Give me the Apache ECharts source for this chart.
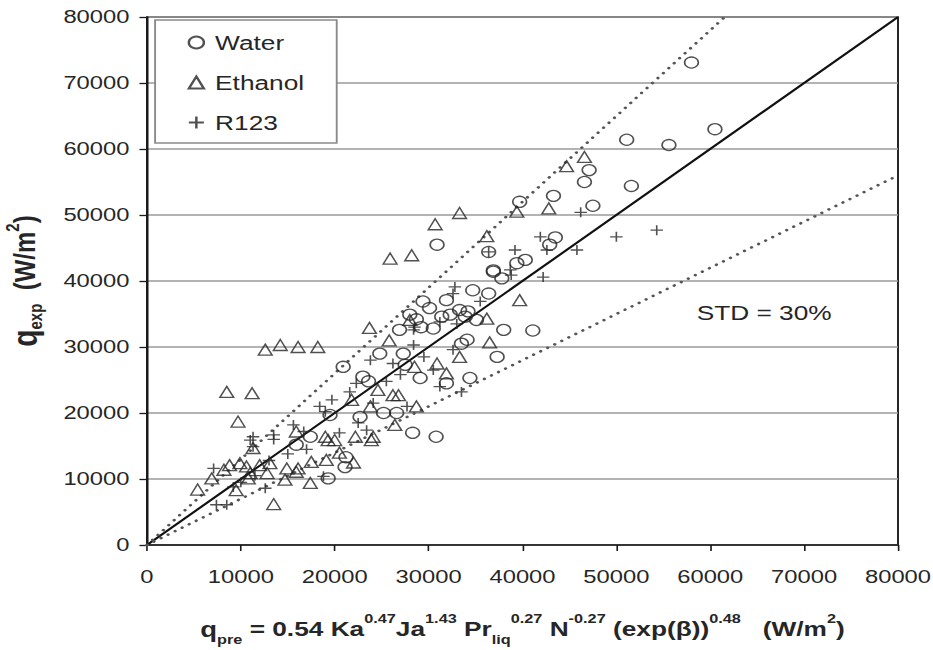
<!DOCTYPE html>
<html><head><meta charset="utf-8">
<script src="https://cdn.jsdelivr.net/npm/echarts@6/dist/echarts.min.js"></script>
<style>
html,body{margin:0;padding:0;background:#fff;overflow:hidden;width:933px;height:650px}
#wrap{width:933px;height:650px;overflow:hidden;position:relative;background:#fff}
#chart{width:746px;height:650px;transform:scaleX(1.2507);transform-origin:0 0;position:absolute;left:0;top:0}
</style></head><body><div id="wrap"><div id="chart"></div></div>
<script>
// ---- data (W/m2): [q_pre, q_exp] ----
const waterData = [
 [58000,73100],[60500,63000],[55600,60600],[51100,61400],[47100,56800],[46600,55000],[51600,54400],
 [43300,52900],[47500,51400],[39700,52000],[43500,46600],[30900,45500],[36400,44400],[42900,45500],
 [40300,43200],[39400,42700],[36900,41600],[37800,40400],[34700,38600],[36400,38100],[29400,36900],
 [30100,35900],[31900,37100],[33300,35600],[34200,35400],[35100,34100],[31400,34600],[28700,34200],
 [28000,34900],[26900,32600],[38000,32600],[41100,32500],[37300,28500],[33500,30500],[34100,31100],
 [32300,34900],[30500,32800],[33900,34600],[29100,25300],[34400,25300],[31900,24500],[27500,27300],
 [28300,17000],[30800,16400],[20900,27000],[24800,29000],[27300,29000],[23000,25500],[23600,24800],
 [19500,19700],[22700,19400],[25200,20000],[26600,20000],[17400,16400],[15900,15200],[19300,10100],
 [21100,11800],[21200,13300],[36900,41400],[29200,33000]
];
const ethanolData = [
 [46600,58800],[44700,57400],[42800,51000],[39400,50500],[33300,50300],[30700,48600],[25900,43400],
 [28200,43900],[36200,46800],[39700,37100],[36200,34300],[25800,31000],[36500,30700],[23700,32900],
 [12600,29600],[14200,30300],[16100,30000],[18200,30000],[8500,23200],[11200,23000],[9700,18700],
 [28000,34100],[33300,28500],[31900,26000],[28500,27000],[30900,27500],[26200,22700],[26800,22700],
 [26400,18200],[28700,21000],[24100,16400],[22200,16400],[20000,15900],[19000,16400],[23800,21000],
 [21800,22000],[24600,23500],[15900,17200],[11300,14700],[9900,12400],[8800,12100],[6900,10100],
 [5400,8400],[10600,11900],[11000,10900],[12000,12100],[13100,12400],[14900,11600],[15900,11100],
 [14700,9900],[13500,6200],[9500,8300],[10800,10100],[12800,10900],[8200,11400],[16100,11600],
 [17500,12600],[19100,12900],[19300,15900],[17400,9400],[23900,15900],[20500,14000],[22000,12500]
];
const r123Data = [
 [54300,47700],[50000,46700],[46200,50400],[41900,46700],[42600,44700],[39200,44700],[36400,44400],
 [38800,40900],[42200,40600],[32800,39100],[32600,38100],[38700,41700],[35500,36900],[31200,33800],
 [28400,32600],[32600,29600],[30500,26500],[31200,24000],[33500,23200],[23800,28000],[26200,27500],
 [28400,30300],[22300,24500],[19700,22000],[21600,23200],[18400,21000],[24100,21500],[27700,21000],
 [23400,17400],[15600,18200],[13500,16700],[16700,17200],[11300,16400],[11300,14900],[11000,15900],
 [13500,16000],[7100,11600],[7400,6100],[8500,6100],[12600,8600],[9200,8800],[18800,10400],
 [19000,20200],[45800,44700],[10000,9500],[11500,10500],[13000,12800],[15000,13800],[17000,14500],
 [20500,17000],[22500,18500],[25500,24800],[27000,25800],[29500,28500],[33000,33500],[28500,33000]
];
// reference lines: y = x, and +/-30 % bands
const parityLine = [[0,0],[80000,80000]];
const upperBand = [[0,0],[61540,80000]];
const lowerBand = [[0,0],[80000,56000]];
const axisMin = 0, axisMax = 80000, axisStep = 10000;
const seriesNames = ['Water','Ethanol','R123'];
const stdText = 'STD = 30%';

const FF = '"Liberation Sans", Arial, Helvetica, sans-serif';
const ink = '#262626';
const mk = {color:'rgba(0,0,0,0)', borderColor:ink, borderWidth:1.3};

const chart = echarts.init(document.getElementById('chart'), null, {renderer:'svg'});
function mkRich(base, qSize, small){
  return {
    q:{fontSize:qSize,fontWeight:'bold',fontFamily:FF,color:ink,lineHeight:34},
    b:{fontSize:base,fontWeight:'bold',fontFamily:FF,color:ink,lineHeight:34},
    sup:{fontSize:small,fontWeight:'bold',fontFamily:FF,color:ink,lineHeight:16,verticalAlign:'top'},
    sub:{fontSize:small,fontWeight:'bold',fontFamily:FF,color:ink,lineHeight:20,verticalAlign:'bottom'}
  };
}
const plain = v => String(v);
chart.setOption({
  animation:false,
  backgroundColor:'#fff',
  grid:{left:117.5,right:28,top:17,bottom:105,outerBoundsMode:'none',containLabel:false,
        show:true,borderColor:'#1a1a1a',borderWidth:1.5,backgroundColor:'rgba(0,0,0,0)'},
  legend:{
    data:seriesNames, orient:'vertical', left:124, top:20,
    padding:[12,26,10,26], itemGap:19, itemWidth:12, itemHeight:12,
    backgroundColor:'#fff', borderColor:'#8a8a8a', borderWidth:1.5,
    textStyle:{fontSize:21,fontFamily:FF,color:ink,padding:[0,0,0,4]},
    selectedMode:false
  },
  xAxis:{
    type:'value', min:axisMin, max:axisMax, interval:axisStep,
    axisLine:{show:true,onZero:false,lineStyle:{color:'#1a1a1a',width:1.5}},
    axisTick:{show:true,length:6,lineStyle:{color:'#1a1a1a',width:1.3}},
    splitLine:{show:false},
    axisLabel:{fontSize:19,fontFamily:FF,color:ink,margin:22,formatter:plain},
    name:'{q|q}{sub|pre}{b| = 0.54 Ka}{sup|0.47}{b|Ja}{sup|1.43}{b| Pr}{sub|liq}{sup|0.27}{b| N}{sup|-0.27}{b| (exp(β))}{sup|0.48}{b|   (W/m}{sup|2}{b|)}',
    nameLocation:'middle', nameGap:67,
    nameTextStyle:{rich:mkRich(21,22,13)}
  },
  yAxis:{
    type:'value', min:axisMin, max:axisMax, interval:axisStep,
    axisLine:{show:true,onZero:false,lineStyle:{color:'#1a1a1a',width:1.5}},
    axisTick:{show:true,length:6,lineStyle:{color:'#1a1a1a',width:1.3}},
    splitLine:{show:true,lineStyle:{color:'#9a9a9a',width:1.6}},
    axisLabel:{fontSize:19,fontFamily:FF,color:ink,margin:14,formatter:plain},
    name:'{q|q}{sub|exp}{b|  (W/m}{sup|2}{b|)}',
    nameLocation:'middle', nameGap:81, nameRotate:90,
    nameTextStyle:{rich:mkRich(24,28,15)}
  },
  graphic:[{type:'text', left:557, top:302, z:10,
    style:{text:stdText, fontSize:21, fontFamily:FF, fill:ink}}],
  series:[
    {type:'line', data:parityLine, symbol:'none', silent:true, z:2,
     lineStyle:{color:'#111',width:2}},
    {type:'line', data:upperBand, symbol:'none', silent:true, z:2,
     lineStyle:{color:'#555',width:2.6,type:[0.1,6.5],cap:'round'}},
    {type:'line', data:lowerBand, symbol:'none', silent:true, z:2,
     lineStyle:{color:'#555',width:2.6,type:[0.1,6.5],cap:'round'}},
    {name:'Water', type:'scatter', data:waterData, symbol:'circle', symbolSize:11, itemStyle:mk, z:3, emphasis:{disabled:true}},
    {name:'Ethanol', type:'scatter', data:ethanolData, symbol:'triangle', symbolSize:11, itemStyle:mk, z:3, emphasis:{disabled:true}},
    {name:'R123', type:'scatter', data:r123Data, symbol:'path://M5,0L5,10M0,5L10,5', symbolSize:10,
     itemStyle:{color:'rgba(0,0,0,0)', borderColor:ink, borderWidth:1.3}, z:3, emphasis:{disabled:true}}
  ]
});
</script></body></html>
